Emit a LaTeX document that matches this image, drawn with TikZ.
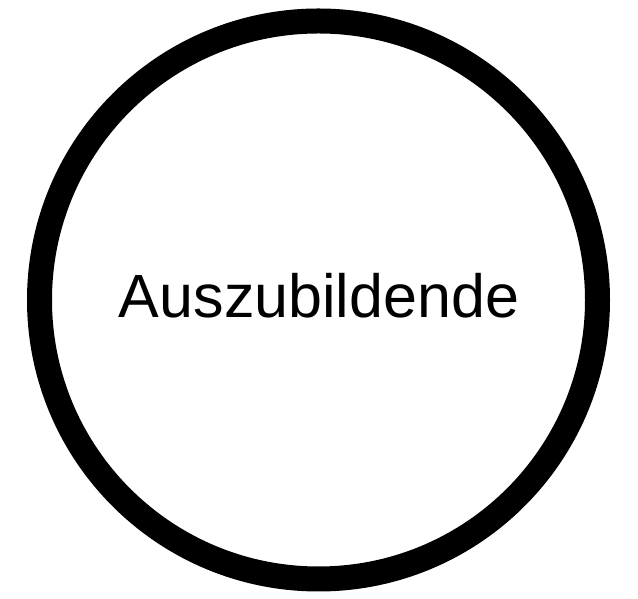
\documentclass[tikz,border=0pt]{standalone}
\usepackage{fontspec}
\setmainfont{Liberation Sans}
\usepackage{tikz}
\def\Frame{(0pt,0pt) rectangle (638pt,599pt)}
\def\Rolle{(318.5pt,299pt) circle (279pt)}

\begin{document}
\begin{tikzpicture}[x=1pt,y=1pt]
    \useasboundingbox \Frame;
    \begin{scope}
      \draw[line width=25pt] \Rolle;
      \node (azubi) [text=black,anchor=base,font=\fontsize{61}{73}\selectfont] at (319,281) {Auszubildende};
    \end{scope}
  \end{tikzpicture}
\end{document}
